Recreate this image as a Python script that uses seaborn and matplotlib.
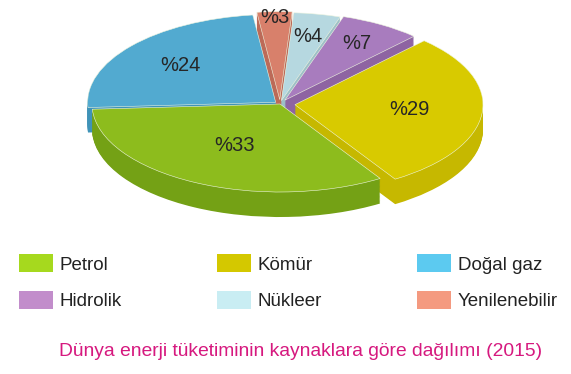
import numpy as np
import matplotlib.pyplot as plt
import seaborn as sns
from matplotlib.patches import Patch

kaynaklar = ['Petrol', 'Kömür', 'Doğal gaz', 'Hidrolik', 'Nükleer', 'Yenilenebilir']
oranlar = [33, 29, 24, 7, 4, 3]
etiketler = ['%33', '%29', '%24', '%7', '%4', '%3']
baslik = 'Dünya enerji tüketiminin kaynaklara göre dağılımı (2015)'

# pastada tepeden saat yönünde dilim sırası
pasta_sirasi = ['Yenilenebilir', 'Nükleer', 'Hidrolik', 'Kömür', 'Petrol', 'Doğal gaz']

ust_renk = {'Petrol': '#8DBC1D', 'Kömür': '#D8CA00', 'Doğal gaz': '#52AAD0',
            'Hidrolik': '#A87CBE', 'Nükleer': '#B6D8E0', 'Yenilenebilir': '#D8806B'}
yan_renk = {'Petrol': '#74A115', 'Kömür': '#C6B800', 'Doğal gaz': '#3F93B8',
            'Hidrolik': '#8E64A2', 'Nükleer': '#9DC0C8', 'Yenilenebilir': '#BC6A58'}
lejant_renk = {'Petrol': '#A6D91E', 'Kömür': '#D4C800', 'Doğal gaz': '#5CCAF0',
               'Hidrolik': '#C28DCB', 'Nükleer': '#C9EDF3', 'Yenilenebilir': '#F49A80'}
patlatma = {'Petrol': 0.0, 'Kömür': 0.08, 'Doğal gaz': 0.03,
            'Hidrolik': 0.05, 'Nükleer': 0.04, 'Yenilenebilir': 0.05}
etiket_r = {'Petrol': 0.53, 'Kömür': 0.69, 'Doğal gaz': 0.69,
            'Hidrolik': 0.80, 'Nükleer': 0.78, 'Yenilenebilir': 0.98}

sns.set_theme(style='white')
plt.rcParams['font.family'] = ['Liberation Sans', 'DejaVu Sans']

fig = plt.figure(figsize=(5.71, 3.74), dpi=100)
ax = fig.add_axes([0, 1 - 230 / 374, 1, 230 / 374])

degerler = [oranlar[kaynaklar.index(k)] for k in pasta_sirasi]
ex = [patlatma[k] for k in pasta_sirasi]

# yan yuzey: asagidan yukari ust uste pastalar
derinlik = 25 / 88
for d in np.linspace(derinlik, 0.01, 30):
    ax.pie(degerler, startangle=97, counterclock=False, center=(0, -d), explode=ex,
           colors=[yan_renk[k] for k in pasta_sirasi], wedgeprops=dict(linewidth=0))

dilimler, _ = ax.pie(degerler, startangle=97, counterclock=False, explode=ex,
                     colors=[ust_renk[k] for k in pasta_sirasi],
                     wedgeprops=dict(edgecolor='#EEF5E0', linewidth=0.4))

for w, k in zip(dilimler, pasta_sirasi):
    aci = np.deg2rad((w.theta1 + w.theta2) / 2)
    r = etiket_r[k]
    ax.text(r * np.cos(aci), r * np.sin(aci), etiketler[kaynaklar.index(k)],
            ha='center', va='center', fontsize=14.5, color='#262626')

ax.set_aspect('auto')
ax.set_xlim(-280 / 188, 291 / 188)
ax.set_ylim(-126 / 88, 104 / 88)
ax.axis('off')

# lejant satir satir: ncol=3 sutun sutun doldurdugu icin sira degisiyor
lejant_sira = ['Petrol', 'Hidrolik', 'Kömür', 'Nükleer', 'Doğal gaz', 'Yenilenebilir']
tutamaklar = [Patch(facecolor=lejant_renk[k], edgecolor='none') for k in lejant_sira]
fig.legend(tutamaklar, lejant_sira, ncol=3, loc='upper left',
           bbox_to_anchor=(2 / 571, 1 - 237 / 374), frameon=False,
           fontsize=13.5, handlelength=1.8, handleheight=1.15, handletextpad=0.35,
           columnspacing=5.1, labelspacing=0.92, labelcolor='#222222')

fig.text(301 / 571, 1 - 352 / 374, baslik, ha='center', va='center',
         fontsize=13.9, color='#D6197F')

fig.savefig('out.png', dpi=100)
